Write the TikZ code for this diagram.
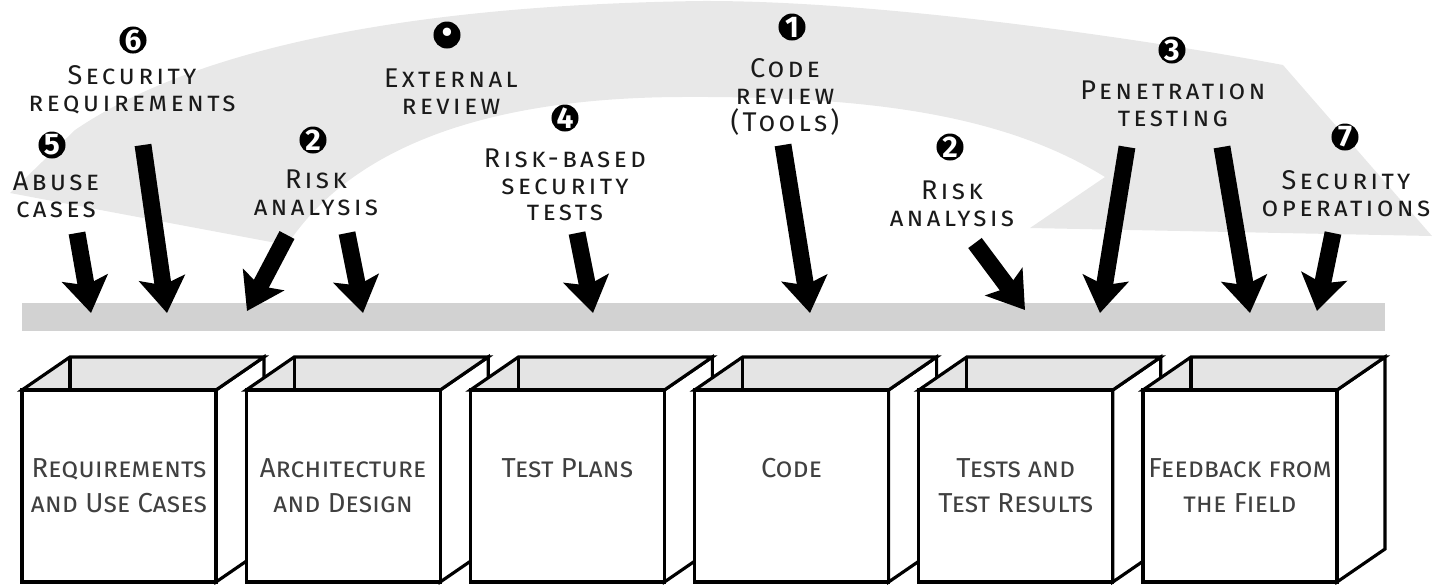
\documentclass[tikz,border=0pt]{standalone}
\usepackage{fontspec}
\setmainfont{Fira Sans}
\newfontfamily\tagfont[LetterSpace=12]{Fira Sans}
\usetikzlibrary{arrows.meta}
\definecolor{tband}{HTML}{E8E8E8}
\definecolor{tbar}{HTML}{D2D2D2}
\definecolor{ttop}{HTML}{E4E4E4}
\definecolor{tink}{HTML}{1A1A1A}
\definecolor{tboxtext}{HTML}{404040}

\begin{document}
\begin{tikzpicture}[x=0.01cm, y=-0.01cm,
    every node/.style={font=\tagfont\scshape\fontsize{7.7}{7.6}\selectfont, text=tink, align=center},
    num/.style={circle, fill=black, text=white, inner sep=0pt, minimum size=0.27cm,
      font=\bfseries\fontsize{8.5}{8.5}\selectfont},
    phase/.style={font=\scshape\fontsize{7.8}{10}\selectfont, text=tboxtext, inner sep=0pt},
    touch/.style={-{Stealth[length=10pt, width=13pt, inset=2pt]}, line width=4.8pt}]
  \useasboundingbox (0,0) rectangle (1435,584);
  % big curved arrow
  \fill[tband] (10,193) -- (75,130) .. controls (200,45) and (420,5) .. (700,1)
    .. controls (880,0) and (1150,40) .. (1283,65) -- (1432,236) -- (1030,228) -- (1105,177)
    .. controls (1000,112) and (860,96) .. (680,97)
    .. controls (480,98) and (350,150) .. (287,245) -- cycle;
  % lifecycle bar
  \fill[tbar] (22,303) rectangle (1385,331);
  % artifacts
  \foreach \i/\txt in {0/{Requirements\\and Use Cases}, 1/{Architecture\\and Design},
      2/{Test Plans}, 3/{Code}, 4/{Tests and\\Test Results}, 5/{Feedback from\\the Field}}{
    \pgfmathsetmacro\L{22+224.2*\i}
    \filldraw[line width=0.9pt, fill=white] (\L+194,390) -- ++(48,-33) -- ++(0,192) -- (\L+194,582) -- cycle;
    \filldraw[line width=0.9pt, fill=ttop] (\L,390) -- ++(48,-33) -- ++(194,0) -- (\L+194,390) -- cycle;
    \draw[line width=0.9pt] (\L+48,357) -- (\L+48,390);
    \filldraw[line width=0.9pt, fill=white] (\L,390) rectangle (\L+194,582);
    \node[phase, anchor=north] (ph\i) at (\L+97,458) {\txt};
  }
  % touchpoints
  \node[num] (n5) at (52,145) {5};
  \node (t5) at (56,195) {Abuse\\cases};
  \node[num] (n6) at (133,40) {6};
  \node (t6) at (132,90) {Security\\requirements};
  \node[num] (n2a) at (313,140) {2};
  \node (t2a) at (316,193) {Risk\\analysis};
  \node[num] (n8) at (447,35) {\textbullet};
  \node (t8) at (451,92) {External\\review};
  \node[num] (n4) at (565,118) {4};
  \node (t4) at (565,185) {Risk-based\\security\\tests};
  \node[num] (n1) at (792,27) {1};
  \node (t1) at (785,97) {Code\\review\\(Tools)};
  \node[num] (n2b) at (950,147) {2};
  \node (t2b) at (952,204) {Risk\\analysis};
  \node[num] (n3) at (1172,50) {3};
  \node (t3) at (1173,104) {Penetration\\testing};
  \node[num] (n7) at (1345,137) {7};
  \node (t7) at (1346,194) {Security\\operations};
  % arrows onto the bar
  \foreach \nm/\sx/\sy/\ex/\ey in {a5/77/233/91/313, a6/143/145/167/313,
      a2a/287/235/247/311, a2b/347/233/363/313, a4/577/233/593/313,
      a1/783/145/810/313, a2c/975/243/1025/310, a3a/1127/147/1100/313,
      a3b/1222/147/1250/313, a7/1333/233/1317/311}{
    \coordinate (\nm s) at (\sx,\sy);
    \coordinate (\nm e) at (\ex,\ey);
    \draw[touch] (\nm s) -- (\nm e);
  }
\end{tikzpicture}
\end{document}
